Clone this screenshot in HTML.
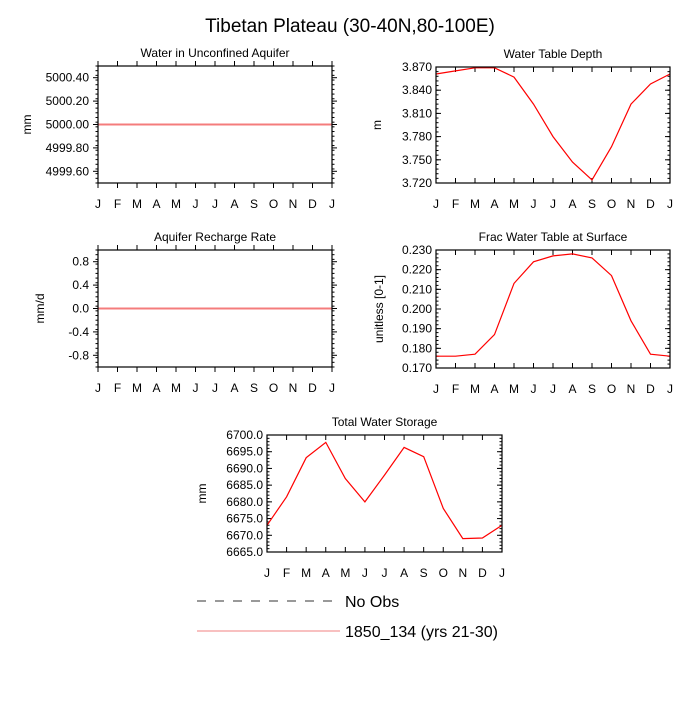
<!DOCTYPE html>
<html><head><meta charset="utf-8"><style>
body{margin:0;background:#fff}
svg text{font-family:"Liberation Sans",sans-serif;fill:#000}
</style></head><body>
<svg id="c" width="700" height="700" viewBox="0 0 700 700" xmlns="http://www.w3.org/2000/svg">
<text x="350" y="32" font-size="19" text-anchor="middle">Tibetan Plateau (30-40N,80-100E)</text>
<line x1="197" y1="601" x2="335" y2="601" stroke="#333" stroke-dasharray="9,9"/>
<text x="345" y="607" font-size="16">No Obs</text>
<line x1="197" y1="631" x2="340" y2="631" stroke="#f08080"/>
<text x="345" y="637" font-size="16">1850_134 (yrs 21-30)</text>
</svg>
<script>
const months=["J","F","M","A","M","J","J","A","S","O","N","D","J"];
const aquiferVals=[5000,5000,5000,5000,5000,5000,5000,5000,5000,5000,5000,5000,5000];
const aquiferTicks=["5000.40","5000.20","5000.00","4999.80","4999.60"];
const wtdVals=[3.861,3.865,3.869,3.869,3.857,3.822,3.780,3.747,3.724,3.767,3.822,3.848,3.861];
const wtdTicks=["3.870","3.840","3.810","3.780","3.750","3.720"];
const rechargeVals=[0,0,0,0,0,0,0,0,0,0,0,0,0];
const rechargeTicks=["0.8","0.4","0.0","-0.4","-0.8"];
const fracVals=[0.176,0.176,0.177,0.187,0.213,0.224,0.227,0.228,0.226,0.217,0.194,0.177,0.176];
const fracTicks=["0.230","0.220","0.210","0.200","0.190","0.180","0.170"];
const twsVals=[6673,6681.5,6693.2,6697.8,6687,6680,6688,6696.3,6693.5,6678,6669,6669.2,6673];
const twsTicks=["6700.0","6695.0","6690.0","6685.0","6680.0","6675.0","6670.0","6665.0"];

const NS="http://www.w3.org/2000/svg";
const svg=document.getElementById('c');
function mk(t,a,p){const e=document.createElementNS(NS,t);for(const k in a)e.setAttribute(k,a[k]);(p||svg).appendChild(e);return e;}

function panel(o){
  const g=mk('g',{});
  
  
  const {x0,x1,y0,y1,ymin,ymax}=o;
  const sx=i=>x0+(x1-x0)*i/12;
  const sy=v=>y1-(y1-y0)*(v-ymin)/(ymax-ymin);
  const dir=o.inward?1:-1;
  const t=mk('text',{x:(x0+x1)/2,y:y0-9,'font-size':12,'text-anchor':'middle'},g);t.textContent=o.title;
  
  o.ticks.forEach(s=>{
    const v=parseFloat(s),y=sy(v);
    mk('line',{x1:x0,x2:x0+dir*5,y1:y,y2:y,stroke:'#000'},g);
    mk('line',{x1:x1,x2:x1-dir*5,y1:y,y2:y,stroke:'#000'},g);
    const l=mk('text',{x:x0-(o.inward?4:9),y:y+4,'font-size':12,'text-anchor':'end'},g);l.textContent=s;
    
  });
  const vs=o.ticks.map(parseFloat);const ms=(vs[0]-vs[1])/5;
  for(let v=ymin;v<=ymax+1e-9;v+=ms){const y=sy(v);
    mk('line',{x1:x0,x2:x0+dir*2.5,y1:y,y2:y,stroke:'#000'},g);
    mk('line',{x1:x1,x2:x1-dir*2.5,y1:y,y2:y,stroke:'#000'},g);}
  months.forEach((m,i)=>{const x=sx(i);
    mk('line',{x1:x,x2:x,y1:y1,y2:y1-dir*5,stroke:'#000'},g);
    mk('line',{x1:x,x2:x,y1:y0,y2:y0+dir*5,stroke:'#000'},g);
    const l=mk('text',{x:x,y:y1+25,'font-size':12,'text-anchor':'middle'},g);l.textContent=m;
    });
  const yl=mk('text',{x:0,y:0,'font-size':12,'text-anchor':'middle',transform:`translate(${o.ylx},${(y0+y1)/2}) rotate(-90)`},g);yl.textContent=o.ylab;
  
  const pts=o.vals.map((v,i)=>sx(i).toFixed(1)+','+sy(v).toFixed(1)).join(' ');
  const pl=mk('polyline',{points:pts,fill:'none',stroke:o.flat?'#f47c7c':'#f00','stroke-width':o.flat?2:1.2},g);
  
  mk('rect',{x:x0,y:y0,width:x1-x0,height:y1-y0,fill:'none',stroke:'#000','stroke-width':1.2},g);
}
panel({name:'panel-unconfined-aquifer',title:'Water in Unconfined Aquifer',x0:98,x1:332,y0:66,y1:183,ymin:4999.5,ymax:5000.5,vals:aquiferVals,ticks:aquiferTicks,ylab:'mm',ylx:31,flat:true});
panel({name:'panel-water-table-depth',title:'Water Table Depth',x0:436,x1:670,y0:67,y1:183,ymin:3.72,ymax:3.87,vals:wtdVals,ticks:wtdTicks,ylab:'m',ylx:381,inward:true});
panel({name:'panel-recharge-rate',title:'Aquifer Recharge Rate',x0:98,x1:332,y0:250,y1:367,ymin:-1,ymax:1,vals:rechargeVals,ticks:rechargeTicks,ylab:'mm/d',ylx:44,flat:true});
panel({name:'panel-frac-water-table',title:'Frac Water Table at Surface',x0:436,x1:670,y0:250,y1:368,ymin:0.17,ymax:0.23,vals:fracVals,ticks:fracTicks,ylab:'unitless [0-1]',ylx:383,inward:true});
panel({name:'panel-total-water-storage',title:'Total Water Storage',x0:267,x1:502,y0:435,y1:552,ymin:6665,ymax:6700,vals:twsVals,ticks:twsTicks,ylab:'mm',ylx:206,inward:true});
</script>
</body></html>
